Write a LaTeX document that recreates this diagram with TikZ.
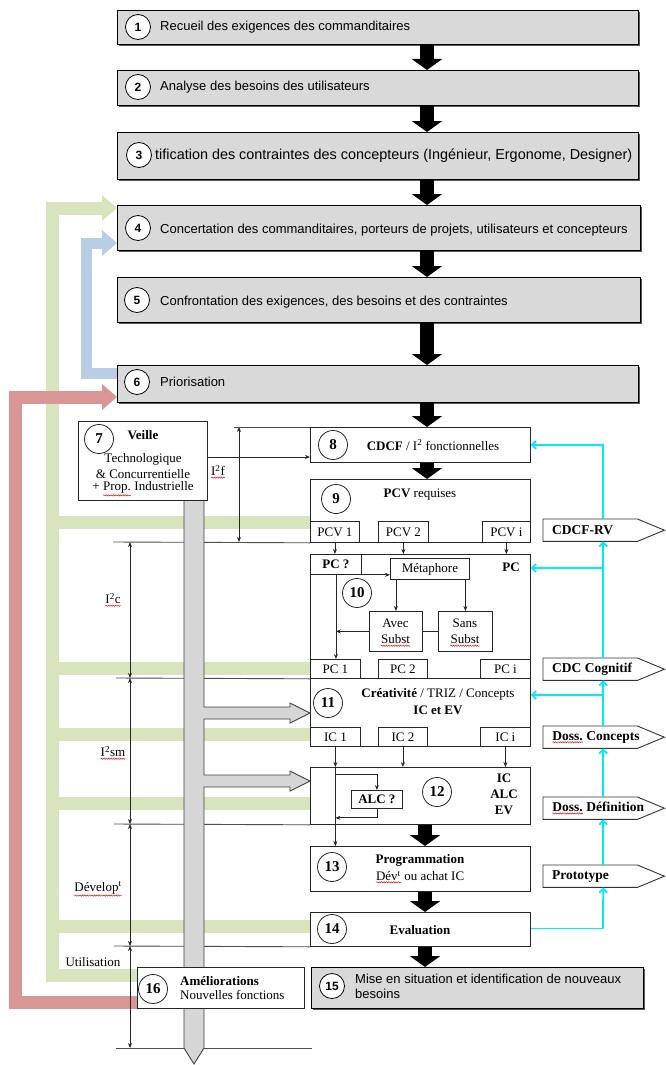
\documentclass[tikz,border=0pt]{standalone}
\usepackage{fontspec}
\setmainfont{Liberation Serif}
\newfontfamily\arialf{Liberation Sans}
\usetikzlibrary{arrows.meta,decorations.pathmorphing,calc}
\pgfdeclarelayer{bg}
\pgfdeclarelayer{mid}
\pgfsetlayers{bg,mid,main}
\definecolor{boxgray}{RGB}{217,217,217}
\definecolor{fbgreen}{RGB}{215,228,189}
\definecolor{fbblue}{RGB}{185,205,229}
\definecolor{fbred}{RGB}{217,150,148}
\definecolor{cyanl}{RGB}{0,235,255}
\definecolor{shaftgray}{RGB}{214,214,214}
\newcommand{\sqw}[1]{\tikz[baseline=(sqwn.base)]{\node[inner sep=0pt,outer sep=0pt,anchor=center,draw=none,fill=none](sqwn){#1};\draw[red,line width=0.5pt,decorate,decoration={snake,amplitude=0.6pt,segment length=2.4pt}]([yshift=-1.8pt]sqwn.south west)--([yshift=-1.8pt]sqwn.south east);}}
\begin{document}
\begin{tikzpicture}[x=1pt,y=-1pt,
 topbox/.style={draw=black,line width=1.1pt,fill=boxgray,anchor=north west,inner sep=0pt,
   preaction={fill=black!65,transform canvas={xshift=1.5pt,yshift=-1.5pt}}},
 wbox/.style={draw=black!85,line width=0.8pt,fill=white,anchor=north west,inner sep=0pt,font=\fontsize{13}{15}\selectfont},
 numc/.style={circle,draw=black,line width=0.8pt,fill=white,minimum size=25pt,inner sep=0pt,font=\arialf\bfseries\fontsize{12}{12}\selectfont},
 numd/.style={circle,draw=black!85,line width=0.8pt,fill=white,minimum size=29pt,inner sep=0pt,font=\bfseries\fontsize{15}{15}\selectfont},
 atxt/.style={anchor=west,inner sep=0pt,font=\arialf\fontsize{13}{15}\selectfont},
 stxt/.style={inner sep=0pt,font=\fontsize{13}{15}\selectfont},
 btxt/.style={inner sep=0pt,font=\bfseries\fontsize{13}{15}\selectfont},
 blk/.style={draw=black,line width=14pt,-{Triangle[length=11pt,width=30pt]}},
 conn/.style={draw=black!85,line width=0.8pt,-{Stealth[length=5pt,width=4pt]}},
 dimarr/.style={draw=black!85,line width=0.8pt,{Stealth[length=5pt,width=4pt]}-{Stealth[length=5pt,width=4pt]}},
 ext/.style={draw=black!70,line width=0.9pt},
 cyl/.style={draw=cyanl,line width=1.8pt},
 cy/.style={cyl,-{Straight Barb[length=4pt,width=8pt]}},
 fb/.style={line width=13pt,line join=miter,-{Triangle[length=15pt,width=25pt]}},
 fbl/.style={line width=13pt,draw=fbgreen},
 squig/.style={red,line width=0.5pt,decorate,decoration={snake,amplitude=0.6pt,segment length=2.4pt}},
]
\begin{pgfonlayer}{bg}
\fill[white] (0,0) rectangle (665,1065);
\end{pgfonlayer}
\useasboundingbox (0,0) rectangle (665,1065);

% ---------- top gray boxes ----------
\node[topbox,minimum width=521pt,minimum height=34pt] (b1) at (117,10) {};
\node[numc] (c1) at (138,27) {1};
\node[atxt] (t1) at (160,27) {Recueil des exigences des commanditaires};

\node[topbox,minimum width=521pt,minimum height=35pt] (b2) at (117,70) {};
\node[numc] (c2) at (138,87) {2};
\node[atxt] (t2) at (160,87) {Analyse des besoins des utilisateurs};

\node[topbox,minimum width=521pt,minimum height=47pt] (b3) at (117,132) {};
\node[numc] (c3) at (139,155) {3};
\node[atxt,font=\arialf\fontsize{14.4}{16}\selectfont] (t3) at (155,156) {tification des contraintes des concepteurs (Ingénieur, Ergonome, Designer)};

\node[topbox,minimum width=523pt,minimum height=45pt] (b4) at (117,205) {};
\node[numc] (c4) at (138,228) {4};
\node[atxt] (t4) at (160,230) {Concertation des commanditaires, porteurs de projets, utilisateurs et concepteurs};

\node[topbox,minimum width=523pt,minimum height=45pt] (b5) at (117,277) {};
\node[numc] (c5) at (137,300) {5};
\node[atxt] (t5) at (160,302) {Confrontation des exigences, des besoins et des contraintes};

\node[topbox,minimum width=521pt,minimum height=37pt] (b6) at (117,365) {};
\node[numc] (c6) at (137,382) {6};
\node[atxt] (t6) at (160,382) {Priorisation};

% ---------- lower boxes ----------
\node[wbox,minimum width=129pt,minimum height=79pt] (b7) at (78,421) {};
\node[numd] (c7) at (99,439) {7};
\node[btxt] (t7a) at (143,435) {Veille};
\node[stxt] (t7b) at (143,459) {Technologique};
\node[stxt] (t7c) at (143,474) {\& Concurrentielle};
\node[stxt] (t7d) at (143,489) {+ \sqw{Prop.} Industrielle};

\node[wbox,minimum width=220pt,minimum height=35pt] (b8) at (310,427) {};
\node[numd] (c8) at (333,445) {8};
\node[stxt] (t8) at (433,445) {\textbf{CDCF} / I\textsuperscript{2} fonctionnelles};

\node[wbox,minimum width=220pt,minimum height=63pt] (b9) at (310,479) {};
\node[numd] (c9) at (336,499) {9};
\node[stxt] (t9) at (420,495) {\textbf{PCV} requises};
\node[wbox,minimum width=49pt,minimum height=21pt] (pcv1) at (310,521) {PCV 1};
\node[wbox,minimum width=50pt,minimum height=21pt] (pcv2) at (378,521) {PCV 2};
\node[wbox,minimum width=48pt,minimum height=21pt] (pcvi) at (482,521) {PCV i};

\node[wbox,minimum width=220pt,minimum height=124pt] (b10) at (310,554) {};
\node[wbox,minimum width=51pt,minimum height=20pt,font=\bfseries\fontsize{13}{15}\selectfont] (pcq) at (310,554) {PC ?};
\node[btxt] (tpc) at (511,567) {PC};
\node[wbox,minimum width=79pt,minimum height=21pt] (met) at (390,558) {Métaphore};
\node[numd] (c10) at (357,593) {10};
\node[wbox,minimum width=53pt,minimum height=40pt] (avec) at (369,611) {};
\node[stxt] (avec1) at (395.5,623) {Avec};
\node[stxt] (avec2) at (395.5,639) {Subst};
\draw[squig] ([yshift=-2pt]avec2.south west) -- ([yshift=-2pt]avec2.south east);
\node[wbox,minimum width=54pt,minimum height=40pt] (sans) at (438,611) {};
\node[stxt] (sans1) at (465,623) {Sans};
\node[stxt] (sans2) at (465,639) {Subst};
\draw[squig] ([yshift=-2pt]sans2.south west) -- ([yshift=-2pt]sans2.south east);
\node[wbox,minimum width=50pt,minimum height=19pt] (pc1) at (310,659) {PC 1};
\node[wbox,minimum width=49pt,minimum height=19pt] (pc2) at (378,659) {PC 2};
\node[wbox,minimum width=50pt,minimum height=19pt] (pci) at (480,659) {PC i};

\node[wbox,minimum width=220pt,minimum height=68pt] (b11) at (310,678) {};
\node[numd] (c11) at (328,703) {11};
\node[stxt] (t11a) at (438,694) {\textbf{Créativité} / TRIZ / Concepts};
\node[btxt] (t11b) at (438,710) {IC et EV};
\node[wbox,minimum width=50pt,minimum height=19pt] (ic1) at (310,727) {IC 1};
\node[wbox,minimum width=49pt,minimum height=19pt] (ic2) at (378,727) {IC 2};
\node[wbox,minimum width=50pt,minimum height=19pt] (ici) at (480,727) {IC i};

\node[wbox,minimum width=220pt,minimum height=57pt] (b12) at (310,767) {};
\node[numd] (c12) at (437,792) {12};
\node[btxt] (t12a) at (504,778) {IC};
\node[btxt] (t12b) at (504,794) {ALC};
\node[btxt] (t12c) at (504,810) {EV};
\node[wbox,minimum width=51pt,minimum height=18pt,font=\bfseries\fontsize{13}{15}\selectfont] (alc) at (351,790) {ALC ?};

\node[wbox,minimum width=220pt,minimum height=45pt] (b13) at (310,846) {};
\node[numd] (c13) at (332,867) {13};
\node[btxt] (t13a) at (420,860) {Programmation};
\node[stxt] (t13b) at (420,877) {\sqw{Dév\textsuperscript{t}} ou achat IC};

\node[wbox,minimum width=220pt,minimum height=34pt] (b14) at (310,912) {};
\node[numd] (c14) at (332,929) {14};
\node[btxt] (t14) at (420,930) {Evaluation};

\node[topbox,minimum width=332pt,minimum height=41pt] (b15) at (311,967) {};
\node[numc] (c15) at (332,986) {15};
\node[atxt,align=left] (t15) at (355,986) {Mise en situation et identification de nouveaux\\besoins};

\node[wbox,minimum width=167pt,minimum height=41pt] (b16) at (137,967) {};
\node[numd] (c16) at (153,989) {16};
\node[anchor=west,align=left,inner sep=0pt,font=\fontsize{13}{14}\selectfont] (t16) at (180,988) {\textbf{Améliorations}\\Nouvelles fonctions};

% ---------- tags ----------
\newcommand{\tagb}[4]{%
 \node[anchor=north west,minimum width=94pt,minimum height=22pt,inner sep=0pt] (#1) at (#2,#3) {};
 \draw[line width=0.9pt,draw=black!80,fill=white] (#1.north west) -- (#1.north east) -- ([xshift=27pt]#1.east) -- (#1.south east) -- (#1.south west) -- cycle;
 \node[anchor=west,inner sep=0pt,font=\bfseries\fontsize{13.5}{15}\selectfont] at ([xshift=9pt]#1.west) {#4};}
\tagb{rv}{543}{519}{CDCF-RV}
\tagb{cog}{543}{658}{CDC Cognitif}
\tagb{con}{543}{726}{\sqw{Doss.} Concepts}
\tagb{def}{543}{797}{\sqw{Doss.} Définition}
\tagb{pro}{543}{865}{Prototype}

% ---------- dimension labels ----------
\node[stxt] (lf) at (218,472) {\sqw{I\textsuperscript{2}f}};
\node[stxt] (lc) at (113,600) {\sqw{I\textsuperscript{2}c}};
\node[stxt] (lsm) at (113,753) {\sqw{I\textsuperscript{2}sm}};
\node[stxt] (ldev) at (98,889) {\sqw{Dévelop\textsuperscript{t}}};
\node[stxt] (lut) at (93,962) {Utilisation};

% ---------- black block arrows ----------
\coordinate (ax) at (427,0);
\coordinate (ax2) at (425,0);
\draw[blk] (b1.south -| ax) -- (b2.north -| ax);
\draw[blk] (b2.south -| ax) -- (b3.north -| ax);
\draw[blk] (b3.south -| ax) -- (b4.north -| ax);
\draw[blk] (b4.south -| ax) -- (b5.north -| ax);
\draw[blk] (b5.south -| ax) -- (b6.north -| ax);
\draw[blk] (b6.south -| ax) -- (b8.north -| ax);
\draw[blk] (b8.south -| ax) -- (b9.north -| ax);
\draw[blk] (b12.south -| ax2) -- (b13.north -| ax2);
\draw[blk] (b13.south -| ax2) -- (b14.north -| ax2);
\draw[blk] (b14.south -| ax2) -- (b15.north -| ax2);

% ---------- thin connectors ----------
\coordinate (k7) at (0,457);
\draw[conn] (k7 -| b7.east) -- (k7 -| b8.west);
\draw[conn] (pcv1.south) -- (pcv1.south |- pcq.north);
\draw[conn] (pcv2.south) -- (pcv2.south |- b10.north);
\draw[conn] (pcvi.south) -- (pcvi.south |- b10.north);
\draw[conn] (pcq.south east) -- (pcq.south east -| met.west);
\draw[conn] (pcq.south) -- (pcq.south |- pc1.north);
\draw[conn] (avec.north |- met.south) -- (avec.north);
\draw[conn] (sans.north |- met.south) -- (sans.north);
\draw[conn] (avec.west) -- (avec.west -| pcq.south);
\draw[draw=black!85,line width=0.8pt] (avec.east) -- (sans.west);
\draw[conn] (ic1.south) -- (ic1.south |- b12.north);
\draw[conn] (ic1.south |- b12.north) -- (ic1.south |- b13.north);
\draw[conn] (ic2.south) -- (ic2.south |- b12.north);
\draw[conn] (ici.south) -- (ici.south |- b12.north);
\path (ic1.south) ++(0,28) coordinate (lp);
\path (ic1.south) ++(0,71) coordinate (lp2);
\draw[conn] (lp) -| (alc.north);
\draw[conn] (alc.south) |- (lp2);

% ---------- cyan links ----------
\coordinate (k14) at (603,928.5);
\draw[cyl] (k14 -| b14.east) -- (k14);
\draw[cy] (k14) -- ([xshift=13pt]pro.south);
\draw[cy] ([xshift=13pt]pro.north) -- ([xshift=13pt]def.south);
\draw[cy] ([xshift=13pt]def.north) -- ([xshift=13pt]con.south);
\draw[cy] ([xshift=13pt]con.north) -- ([xshift=13pt]cog.south);
\draw[cy] ([xshift=13pt]cog.north) -- ([xshift=13pt]rv.south);
\draw[cy] ([xshift=13pt]rv.north) |- (b8.east);
\coordinate (k11) at (603,695);
\draw[cy] (k11) -- (k11 -| b11.east);
\coordinate (k10) at (603,568);
\draw[cy] (k10) -- (k10 -| b10.east);

% ---------- gray shaft ----------
\begin{pgfonlayer}{mid}
\draw[fill=shaftgray,draw=black!75,line width=0.9pt,line join=miter] (184,500) -- (204,500) -- (204,707) -- (290,707) -- (290,703) -- (310,713) -- (290,723) -- (290,719) -- (204,719) -- (204,775) -- (290,775) -- (290,771) -- (310,781) -- (290,791) -- (290,787) -- (204,787) -- (204,1048) -- (194,1064) -- (184,1048) -- cycle;
\end{pgfonlayer}

% ---------- feedback loops and dimensions ----------
\begin{pgfonlayer}{bg}
\coordinate (gA) at (52,975);
\coordinate (gB) at (52,208);
\draw[fb,draw=fbgreen] (gA -| b16.west) -- (gA) -- (gB) -- (gB -| b4.west);
\coordinate (g1) at (52,522);
\coordinate (g2) at (52,668);
\coordinate (g3) at (52,734);
\coordinate (g4) at (52,803);
\coordinate (g5) at (52,926);
\draw[fbl] (g1) -- (g1 -| b9.west);
\draw[fbl] (g2) -- (g2 -| pc1.west);
\draw[fbl] (g3) -- (g3 -| ic1.west);
\draw[fbl] (g4) -- (g4 -| b12.west);
\draw[fbl] (g5) -- (g5 -| b14.west);
\coordinate (bA) at (86,373);
\coordinate (bB) at (86,243);
\draw[fb,draw=fbblue,line width=11pt] (bA -| b6.west) -- (bA) -- (bB) -- (bB -| b4.west);
\coordinate (rA) at (15,1002);
\coordinate (rB) at (15,397);
\draw[fb,draw=fbred] (rA -| b16.west) -- (rA) -- (rB) -- (rB -| b6.west);
% dimensions
\coordinate (d0) at (234,427);
\coordinate (d1) at (113,542);
\coordinate (d2) at (116,678);
\coordinate (d3) at (114,824);
\coordinate (d4) at (114,946);
\coordinate (d5) at (116,1048);
\coordinate (d5e) at (312,1048);
\draw[ext] (d0) -- (b8.north west);
\draw[ext] (d1) -- (b9.south west);
\draw[ext] (d2) -- (pc1.south west);
\draw[ext] (d3) -- (b12.south west);
\draw[ext] (d4) -- (b14.south west);
\draw[ext] (d5) -- (d5e);
\draw[dimarr] (239,427) -- (239,542);
\draw[dimarr] (130,542) -- (130,678);
\draw[dimarr] (130,678) -- (130,824);
\draw[dimarr] (130,824) -- (130,946);
\draw[dimarr] (130,946) -- (130,1048);
\end{pgfonlayer}
\end{tikzpicture}
\end{document}
